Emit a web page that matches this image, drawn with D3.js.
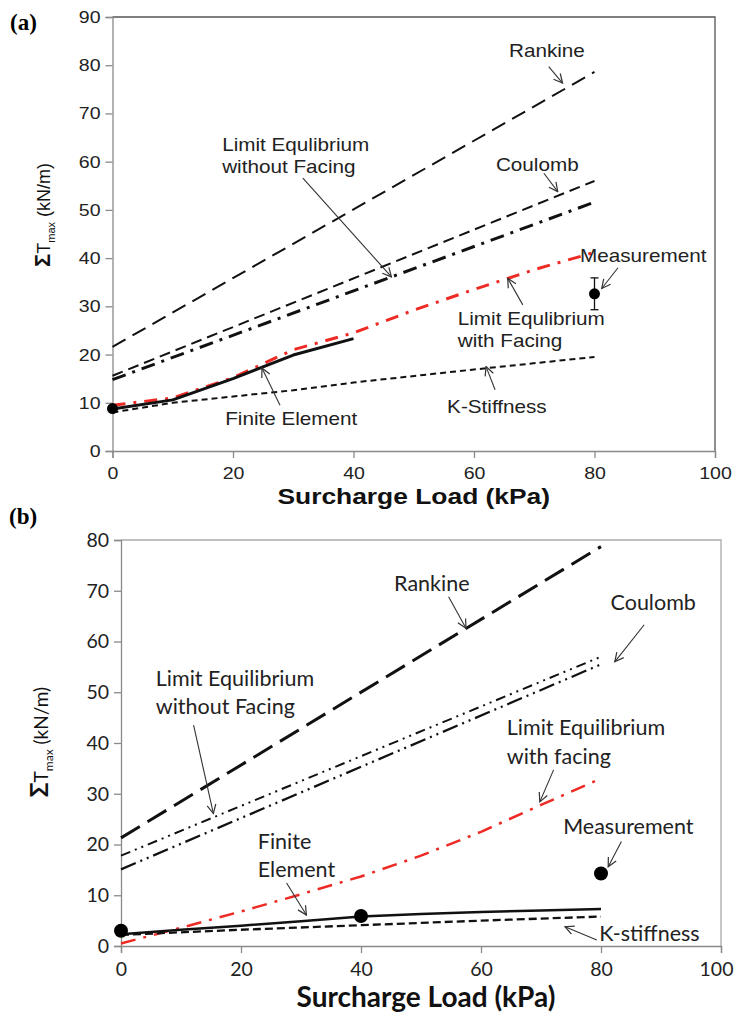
<!DOCTYPE html>
<html>
<head>
<meta charset="utf-8">
<script src="https://cdn.jsdelivr.net/npm/d3@7"></script>
<style>
  body { margin: 0; background: #fff; }
</style>
</head>
<body>
<div class="chart"></div>
<script>
// ---- data ----
// panel (a)
const loadEnds = [0, 80];
const rankineA = [21.6, 78.6];
const coulombA = [15.6, 56.0];
const leNoFacingA = [14.8, 51.6];
const leFacingLoadA = [0, 10, 20, 30, 40, 50, 60, 70, 80];
const leFacingA = [9.5, 11.0, 15.2, 21.0, 24.5, 29.2, 33.5, 37.6, 41.2];
const feLoadA = [0, 10, 20, 30, 40];
const feA = [8.7, 10.6, 15.0, 19.9, 23.3];
const kStiffLoadA = [0, 10, 20, 30, 40, 60, 80];
const kStiffA = [8.0, 10.0, 11.3, 12.6, 14.2, 16.9, 19.5];
const measLoadA = [0, 80];
const measA = [8.8, 32.6];
const measErrA = [0, 3.3];

// panel (b)
const rankineB = [21.3, 78.7];
const coulombB = [17.8, 57.0];
const leNoFacingB = [15.1, 55.5];
const leFacingLoadB = [0, 10, 20, 30, 40, 50, 60, 70, 80];
const leFacingB = [0.5, 3.6, 6.8, 10.2, 13.7, 17.8, 22.5, 27.8, 33.0];
const feLoadB = [0, 10, 20, 30, 40, 50, 60, 70, 80];
const feB = [2.3, 3.2, 4.0, 4.9, 5.8, 6.3, 6.7, 7.0, 7.3];
const kStiffLoadB = [0, 20, 40, 60, 80];
const kStiffB = [2.2, 3.2, 4.1, 5.0, 5.8];
const measLoadB = [0, 40, 80];
const measB = [3.0, 5.9, 14.3];

const xTicks = [0, 20, 40, 60, 80, 100];
const yTicksA = d3.range(0, 91, 10);
const yTicksB = d3.range(0, 81, 10);

const RED = "#ee2a24";

let svg = d3
  .select(".chart")
  .append("svg")
  .attr("width", 735)
  .attr("height", 1015);

// open arrow head
svg
  .append("defs")
  .append("marker")
  .attr("id", "arr")
  .attr("viewBox", "0 0 10 10")
  .attr("refX", 9)
  .attr("refY", 5)
  .attr("markerWidth", 11)
  .attr("markerHeight", 11)
  .attr("markerUnits", "userSpaceOnUse")
  .attr("orient", "auto")
  .append("path")
  .attr("d", "M1,1 L9,5 L1,9")
  .attr("fill", "none")
  .attr("stroke", "#333")
  .attr("stroke-width", 1.1);

function drawAxes(g, x, y, yTicks, w, h, o) {
  // frame (top + right)
  g.append("path")
    .attr("d", `M0,0 H${w} V${h}`)
    .attr("fill", "none")
    .attr("stroke", o.frame)
    .attr("stroke-width", 1.3);

  let yAxis = d3.axisLeft(y).tickValues(yTicks).tickSize(7).tickPadding(5);
  let gy = g.append("g").call(yAxis);
  let xAxis = d3.axisBottom(x).tickValues(xTicks).tickSize(7).tickPadding(9);
  let gx = g.append("g").attr("transform", `translate(0, ${h})`).call(xAxis);

  [gx, gy].forEach((a) => {
    a.select(".domain").attr("stroke", o.axis).attr("stroke-width", 1.3);
    a.selectAll(".tick line").attr("stroke", o.axis).attr("stroke-width", 1.3);
    a.selectAll(".tick text")
      .attr("fill", o.tickColor)
      .style("font-family", o.font)
      .style("font-size", o.tickSize + "px");
  });
  if (o.sx !== 1) {
    gy.selectAll(".tick text").attr("x", -12 / o.sx).attr("transform", `scale(${o.sx},1)`);
    gx.selectAll(".tick text").attr("transform", `scale(${o.sx},1)`);
  }
  // last x label sits at the page edge, nudge it in a little
  gx.selectAll(".tick text").filter((d) => d === 100).attr("dx", o.lastDx || 0);
}

function note(g, x, y, px, py, lines, o, anchor) {
  lines.forEach((s, i) => {
    g.append("text")
      .attr("transform", `translate(${x(px)}, ${y(py) + i * o.lh}) scale(${o.sx},1)`)
      .attr("dy", "0.35em")
      .attr("text-anchor", anchor || "start")
      .style("font-family", o.font)
      .style("font-size", o.noteSize + "px")
      .attr("fill", o.noteColor)
      .text(s);
  });
}

function arrow(g, x, y, a) {
  g.append("line")
    .attr("x1", x(a[0]))
    .attr("y1", y(a[1]))
    .attr("x2", x(a[2]))
    .attr("y2", y(a[3]))
    .attr("stroke", "#333")
    .attr("stroke-width", 1.1)
    .attr("marker-end", "url(#arr)");
}

function series(g, x, y, loads, vals, stroke, width, dash) {
  let line = d3.line().x((d) => x(d[0])).y((d) => y(d[1]));
  g.append("path")
    .datum(d3.zip(loads, vals))
    .attr("d", line)
    .attr("fill", "none")
    .attr("stroke", stroke)
    .attr("stroke-width", width)
    .attr("stroke-dasharray", dash)
    .attr("stroke-linejoin", "round");
}

// ================= panel (a) =================
let optA = {
  font: "'Liberation Sans', Arial, sans-serif",
  tickSize: 17,
  noteSize: 18,
  sx: 1.15,
  lh: 22,
  frame: "#555",
  axis: "#8a8a8a",
  tickColor: "#222",
  noteColor: "#222",
  lastDx: 0,
};
let mA = { left: 112.5, top: 17 };
let wA = 602.5, hA = 434;
let gA = svg.append("g").attr("transform", `translate(${mA.left}, ${mA.top})`);
let xA = d3.scaleLinear().domain([0, 100]).range([0, wA]);
let yA = d3.scaleLinear().domain([0, 90]).range([hA, 0]);
drawAxes(gA, xA, yA, yTicksA, wA, hA, optA);

series(gA, xA, yA, loadEnds, rankineA, "#111", 2, "15,8");
series(gA, xA, yA, loadEnds, coulombA, "#111", 2, "11,6");
series(gA, xA, yA, loadEnds, leNoFacingA, "#111", 3, "14,7,3,7");
series(gA, xA, yA, kStiffLoadA, kStiffA, "#111", 2, "6,4");
series(gA, xA, yA, leFacingLoadA, leFacingA, RED, 3, "13,8,3,8");
series(gA, xA, yA, feLoadA, feA, "#111", 3, null);

// measurement with error bar
measLoadA.forEach((l, i) => {
  if (measErrA[i] > 0) {
    gA.append("line")
      .attr("x1", xA(l)).attr("x2", xA(l))
      .attr("y1", yA(measA[i] - measErrA[i])).attr("y2", yA(measA[i] + measErrA[i]))
      .attr("stroke", "#111").attr("stroke-width", 1.3);
    [-1, 1].forEach((s) => {
      gA.append("line")
        .attr("x1", xA(l) - 4).attr("x2", xA(l) + 4)
        .attr("y1", yA(measA[i] + s * measErrA[i])).attr("y2", yA(measA[i] + s * measErrA[i]))
        .attr("stroke", "#111").attr("stroke-width", 1.3);
    });
  }
});
gA.selectAll("circle.meas")
  .data(d3.zip(measLoadA, measA))
  .enter()
  .append("circle")
  .attr("cx", (d) => xA(d[0]))
  .attr("cy", (d) => yA(d[1]))
  .attr("r", 5.5)
  .attr("fill", "#000");

// annotations (a)
note(gA, xA, yA, 72.1, 83.0, ["Rankine"], optA, "middle");
arrow(gA, xA, yA, [72.4, 79.7, 74.7, 76.3]);
note(gA, xA, yA, 70.5, 59.3, ["Coulomb"], optA, "middle");
arrow(gA, xA, yA, [71.6, 57.6, 73.9, 53.8]);
note(gA, xA, yA, 18.2, 63.5, ["Limit Equlibrium", "without Facing"], optA);
arrow(gA, xA, yA, [31.6, 56.6, 46.3, 36.1]);
note(gA, xA, yA, 77.6, 40.4, ["Measurement"], optA);
arrow(gA, xA, yA, [83.9, 38.0, 81.2, 33.7]);
note(gA, xA, yA, 57.3, 27.4, ["Limit Equlibrium", "with Facing"], optA);
arrow(gA, xA, yA, [68.1, 30.3, 65.6, 35.8]);
note(gA, xA, yA, 63.8, 9.2, ["K-Stiffness"], optA, "middle");
arrow(gA, xA, yA, [63.5, 12.7, 62.0, 17.5]);
note(gA, xA, yA, 18.7, 6.8, ["Finite Element"], optA);
arrow(gA, xA, yA, [27.8, 9.5, 24.8, 17.2]);

// axis titles (a)
svg.append("text")
  .attr("transform", `translate(${mA.left + wA / 2}, 504) scale(1.2,1)`)
  .attr("text-anchor", "middle")
  .style("font-family", optA.font)
  .style("font-size", "22px")
  .style("font-weight", "bold")
  .attr("fill", "#111")
  .text("Surcharge Load (kPa)");

function yTitle(x, y, font, sizes) {
  let t = svg.append("text")
    .attr("transform", `translate(${x}, ${y}) rotate(-90)`)
    .attr("text-anchor", "middle")
    .style("font-family", font)
    .attr("fill", "#111");
  t.append("tspan").style("font-size", sizes[0] + "px").style("font-weight", "bold").text("Σ");
  t.append("tspan").style("font-size", sizes[1] + "px").text("T");
  t.append("tspan").style("font-size", sizes[2] + "px").attr("dy", 5).text("max");
  t.append("tspan").style("font-size", sizes[1] + "px").attr("dy", -5).text(" (kN/m)");
}
yTitle(50, 215, optA.font, [22, 18, 11]);

svg.append("text")
  .attr("x", 10).attr("y", 30)
  .style("font-family", "'Liberation Serif', 'Times New Roman', serif")
  .style("font-size", "23px")
  .style("font-weight", "bold")
  .text("(a)");

// ================= panel (b) =================
let optB = {
  font: "Lato, 'Open Sans', sans-serif",
  tickSize: 19.5,
  noteSize: 21.5,
  sx: 1,
  lh: 28.5,
  frame: "#aaa",
  axis: "#8a8a8a",
  tickColor: "#222",
  noteColor: "#222",
  lastDx: -5,
};
let mB = { left: 121, top: 540 };
let wB = 600, hB = 406;
let gB = svg.append("g").attr("transform", `translate(${mB.left}, ${mB.top})`);
let xB = d3.scaleLinear().domain([0, 100]).range([0, wB]);
let yB = d3.scaleLinear().domain([0, 80]).range([hB, 0]);
drawAxes(gB, xB, yB, yTicksB, wB, hB, optB);

series(gB, xB, yB, loadEnds, rankineB, "#111", 3, "22,9");
series(gB, xB, yB, loadEnds, coulombB, "#111", 2, "10,5,2,5,2,5");
series(gB, xB, yB, loadEnds, leNoFacingB, "#111", 2.2, "16,5,2,5,2,5");
series(gB, xB, yB, leFacingLoadB, leFacingB, RED, 2.5, "15,8,3,8");
series(gB, xB, yB, kStiffLoadB, kStiffB, "#111", 2.3, "8,4");
series(gB, xB, yB, feLoadB, feB, "#111", 2.5, null);

gB.selectAll("circle.meas")
  .data(d3.zip(measLoadB, measB))
  .enter()
  .append("circle")
  .attr("cx", (d) => xB(d[0]))
  .attr("cy", (d) => yB(d[1]))
  .attr("r", 7)
  .attr("fill", "#000");

// annotations (b)
note(gB, xB, yB, 51.8, 71.5, ["Rankine"], optB, "middle");
arrow(gB, xB, yB, [54.6, 68.8, 57.5, 62.6]);
note(gB, xB, yB, 88.7, 67.6, ["Coulomb"], optB, "middle");
arrow(gB, xB, yB, [87.2, 63.3, 82.3, 56.0]);
note(gB, xB, yB, 5.8, 52.8, ["Limit Equilibrium", "without Facing"], optB);
arrow(gB, xB, yB, [12.1, 43.5, 15.4, 26.1]);
note(gB, xB, yB, 64.3, 43.0, ["Limit Equilibrium", "with facing"], optB);
arrow(gB, xB, yB, [72.1, 34.7, 69.8, 28.4]);
note(gB, xB, yB, 73.7, 23.6, ["Measurement"], optB);
arrow(gB, xB, yB, [83.4, 20.6, 81.2, 15.6]);
note(gB, xB, yB, 79.7, 2.4, ["K-stiffness"], optB);
arrow(gB, xB, yB, [79.3, 1.2, 74.0, 3.8]);
note(gB, xB, yB, 22.8, 20.6, ["Finite", "Element"], optB);
arrow(gB, xB, yB, [27.6, 12.4, 30.9, 6.1]);

svg.append("text")
  .attr("x", mB.left + wB / 2 + 5)
  .attr("y", 1007)
  .attr("text-anchor", "middle")
  .style("font-family", optB.font)
  .style("font-size", "28px")
  .style("font-weight", "bold")
  .attr("fill", "#111")
  .text("Surcharge Load (kPa)");

yTitle(48, 742, optB.font, [24, 19, 12]);

svg.append("text")
  .attr("x", 9).attr("y", 524)
  .style("font-family", "'Liberation Serif', 'Times New Roman', serif")
  .style("font-size", "23px")
  .style("font-weight", "bold")
  .text("(b)");
</script>
</body>
</html>
